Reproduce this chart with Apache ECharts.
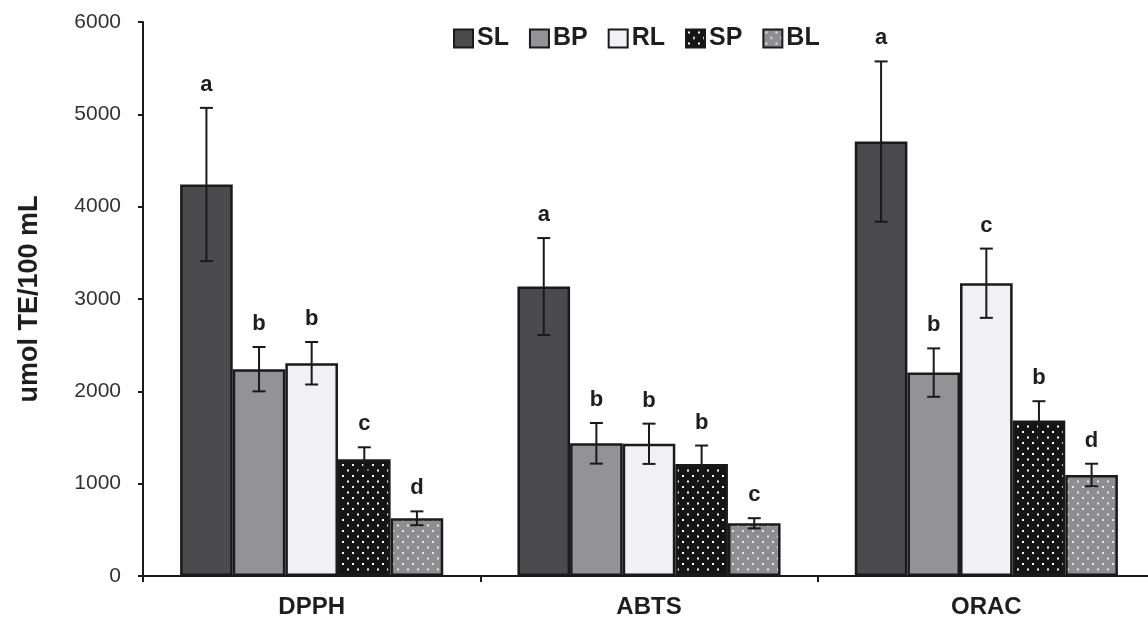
<!DOCTYPE html>
<html>
<head>
<meta charset="utf-8">
<script src="https://cdn.jsdelivr.net/npm/echarts@6/dist/echarts.min.js"></script>
<style>html,body{margin:0;padding:0;background:#fff;}#c{width:1148px;height:619px;}</style>
</head>
<body>
<div id="c"></div>
<script>
const categories = ['DPPH', 'ABTS', 'ORAC'];
const seriesNames = ['SL', 'BP', 'RL', 'SP', 'BL'];
const yTicks = [0, 1000, 2000, 3000, 4000, 5000, 6000];

const SL = [4240, 3135, 4705];
const SL_err = [830, 525, 868];
const SL_letters = ['a', 'a', 'a'];

const BP = [2240, 1437, 2203];
const BP_err = [240, 220, 262];
const BP_letters = ['b', 'b', 'b'];

const RL = [2304, 1432, 3171];
const RL_err = [230, 218, 375];
const RL_letters = ['b', 'b', 'c'];

const SP = [1264, 1213, 1683];
const SP_err = [130, 200, 210];
const SP_letters = ['c', 'b', 'b'];

const BL = [625, 571, 1094];
const BL_err = [75, 55, 122];
const BL_letters = ['d', 'c', 'd'];

const values = [SL, BP, RL, SP, BL];
const errors = [SL_err, BP_err, RL_err, SP_err, BL_err];
const letters = [SL_letters, BP_letters, RL_letters, SP_letters, BL_letters];

function dots(bg, dot) {
  const c = document.createElement('canvas');
  c.width = 10; c.height = 11;
  const g = c.getContext('2d');
  g.fillStyle = bg; g.fillRect(0, 0, 10, 11);
  g.fillStyle = dot;
  g.fillRect(2, 2, 2, 2);
  g.fillRect(7, 7.5, 2, 2);
  return c;
}
const fills = [
  '#4b4b4d',
  '#939395',
  '#f1f1f3',
  { image: dots('#151515', '#ffffff'), repeat: 'repeat' },
  { image: dots('#8e8e90', '#e6e6e6'), repeat: 'repeat' }
];

const CAT_GAP = 0.22;
const FONT = '"Liberation Sans", Arial, sans-serif';
const chart = echarts.init(document.getElementById('c'), null, { renderer: 'canvas' });

const series = [];
seriesNames.forEach((name, i) => {
  series.push({
    name: name,
    type: 'bar',
    data: values[i],
    barGap: '0%',
    barCategoryGap: (CAT_GAP * 100) + '%',
    itemStyle: { color: fills[i], borderColor: '#1a1a1a', borderWidth: 2.5 },
    emphasis: { disabled: true },
    z: 2
  });
});
seriesNames.forEach((name, i) => {
  series.push({
    name: name + '_err',
    type: 'custom',
    z: 5,
    silent: true,
    encode: { x: 0, y: 1 },
    data: categories.map((c, k) => [k, values[i][k], errors[i][k]]),
    renderItem: function (params, api) {
      const k = api.value(0), v = api.value(1), e = api.value(2);
      const band = api.size([1, 0])[0];
      const bw = band * (1 - CAT_GAP) / seriesNames.length;
      const x = api.coord([k, v])[0] + (i - (seriesNames.length - 1) / 2) * bw;
      const yt = api.coord([k, v + e])[1];
      const yb = api.coord([k, v - e])[1];
      const cap = 6.5;
      const st = { stroke: '#1a1a1a', lineWidth: 2 };
      return {
        type: 'group',
        children: [
          { type: 'line', shape: { x1: x, y1: yt, x2: x, y2: yb }, style: st },
          { type: 'line', shape: { x1: x - cap, y1: yt, x2: x + cap, y2: yt }, style: st },
          { type: 'line', shape: { x1: x - cap, y1: yb, x2: x + cap, y2: yb }, style: st },
          { type: 'text', style: { text: letters[i][params.dataIndex], x: x, y: yt - 23, align: 'center', verticalAlign: 'middle', fontSize: 22, fontWeight: 'bold', fontFamily: FONT, fill: '#1e1e1e' } }
        ]
      };
    }
  });
});

chart.setOption({
  animation: false,
  backgroundColor: '#ffffff',
  legend: {
    data: seriesNames,
    left: 448,
    top: 21,
    icon: 'rect',
    itemWidth: 19,
    itemHeight: 18,
    itemGap: 20,
    textStyle: { fontSize: 25, fontWeight: 'bold', fontFamily: FONT, color: '#1e1e1e', padding: [0, 0, 0, -1] }
  },
  grid: { left: 143, top: 22, bottom: 43, right: -7, outerBoundsMode: 'none', containLabel: false },
  xAxis: {
    type: 'category',
    data: categories,
    axisLine: { lineStyle: { color: '#1a1a1a', width: 2 } },
    axisTick: { show: true, length: 6, lineStyle: { color: '#1a1a1a', width: 2 } },
    axisLabel: { fontSize: 24, fontWeight: 'bold', fontFamily: FONT, color: '#1e1e1e', margin: 19 }
  },
  yAxis: {
    type: 'value',
    min: yTicks[0],
    max: yTicks[yTicks.length - 1],
    interval: yTicks[1] - yTicks[0],
    name: 'umol TE/100 mL',
    nameLocation: 'middle',
    nameGap: 100,
    nameTextStyle: { fontSize: 27, fontWeight: 'bold', fontFamily: FONT, color: '#1e1e1e' },
    splitLine: { show: false },
    axisLine: { show: true, lineStyle: { color: '#1a1a1a', width: 2 } },
    axisTick: { show: true, length: 5, lineStyle: { color: '#1a1a1a', width: 2 } },
    axisLabel: { fontSize: 21, fontFamily: FONT, color: '#333333', margin: 22, formatter: function (v) { return String(v); } }
  },
  series: series
});
</script>
</body>
</html>
